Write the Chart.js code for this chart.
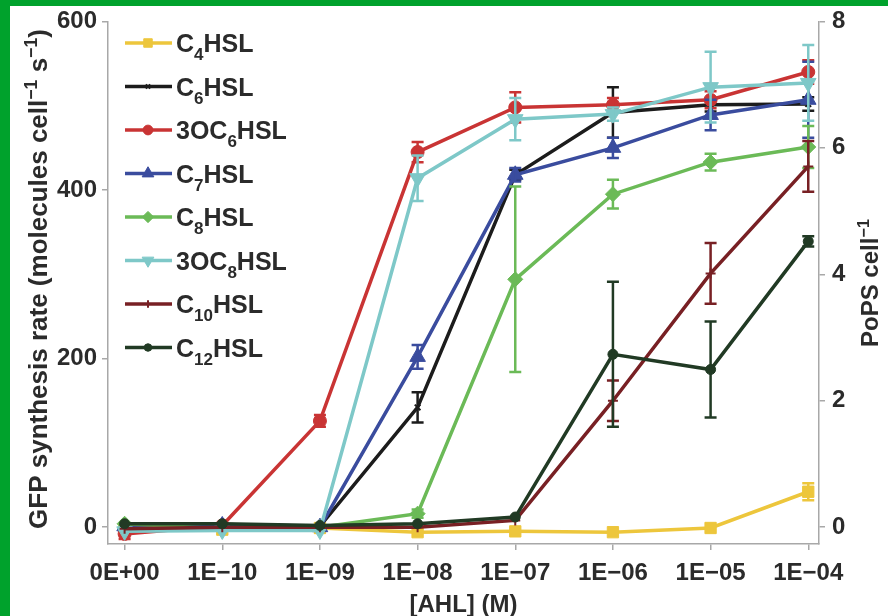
<!DOCTYPE html>
<html>
<head>
<meta charset="utf-8">
<script src="https://cdn.jsdelivr.net/npm/chart.js@4.4.1/dist/chart.umd.min.js"></script>
<style>
  html, body { margin: 0; padding: 0; background: #fff; }
  canvas { display: block; }
</style>
</head>
<body>
<canvas id="chart" width="888" height="616"></canvas>
<script>
// AHL concentrations (x categories)
const concLabels = ['0E+00', '1E\u221210', '1E\u221209', '1E\u221208', '1E\u221207', '1E\u221206', '1E\u221205', '1E\u221204'];

// series names, _{..} = subscript
const seriesNames = ['C_{4}HSL', 'C_{6}HSL', '3OC_{6}HSL', 'C_{7}HSL', 'C_{8}HSL', '3OC_{8}HSL', 'C_{10}HSL', 'C_{12}HSL'];

// GFP synthesis rate, molecules cell^-1 s^-1
const c4Hsl   = [-3, -3, -1, -6, -5, -6, -1, 42];
const c6Hsl   = [2, 3, 1, 142, 418, 492, 501, 502];
const oc6Hsl  = [-8, 2, 126, 445, 498, 501, 507, 540];
const c7Hsl   = [1, 2, 0, 202, 418, 450, 489, 507];
const c8Hsl   = [4, -2, 0, 16, 294, 395, 433, 451];
const oc8Hsl  = [-5, -4, -4, 414, 484, 490, 522, 527];
const c10Hsl  = [-2, 0, 0, 0, 8, 150, 301, 428];
const c12Hsl  = [4, 4, 2, 4, 12, 205, 187, 339];

// error bar half-widths
const c4Err   = [3, 2, 2, 3, 3, 3, 3, 10];
const c6Err   = [3, 3, 3, 18, 6, 30, 8, 8];
const oc6Err  = [6, 3, 7, 12, 18, 8, 10, 14];
const c7Err   = [3, 3, 3, 14, 8, 12, 18, 45];
const c8Err   = [3, 3, 3, 5, 110, 17, 10, 25];
const oc8Err  = [3, 3, 3, 27, 25, 8, 42, 45];
const c10Err  = [3, 3, 3, 3, 4, 24, 36, 30];
const c12Err  = [3, 3, 3, 3, 4, 86, 57, 6];

const leftTicks = [0, 200, 400, 600];
const rightTicks = [0, 2, 4, 6, 8];

const colors = ['#edc63c', '#1c1c1c', '#c93434', '#3a4c9e', '#6bba57', '#7ec8c8', '#782024', '#213a24'];
const markers = [
  { style: 'rect', r: 8, rot: 0 },
  { style: 'crossRot', r: 4, rot: 0 },
  { style: 'circle', r: 6.5, rot: 0 },
  { style: 'triangle', r: 9, rot: 0 },
  { style: 'rectRot', r: 7.5, rot: 0 },
  { style: 'triangle', r: 9, rot: 180 },
  { style: 'cross', r: 5, rot: 0 },
  { style: 'circle', r: 5, rot: 0 }
];

const allValues = [c4Hsl, c6Hsl, oc6Hsl, c7Hsl, c8Hsl, oc8Hsl, c10Hsl, c12Hsl];
const allErrors = [c4Err, c6Err, oc6Err, c7Err, c8Err, oc8Err, c10Err, c12Err];

const FONT = "'Liberation Sans', Arial, sans-serif";
const WEIGHT = 'bold';
const TEXT = '#2b2b2b';
const AXIS = '#a8a8a8';

// split 'C_{4}HSL' / 'cell^{-1}' into parts
function parseRich(str) {
  const parts = [];
  const re = /([_^])\{([^}]*)\}|([^_^]+)/g;
  let m;
  while ((m = re.exec(str)) !== null) {
    if (m[3]) parts.push({ t: m[3], k: null });
    else parts.push({ t: m[2], k: m[1] === '_' ? 'sub' : 'sup' });
  }
  return parts;
}

function richWidth(ctx, parts, size) {
  let w = 0;
  parts.forEach(p => {
    ctx.font = WEIGHT + ' ' + (p.k ? size * 0.68 : size) + 'px ' + FONT;
    w += ctx.measureText(p.t).width;
  });
  return w;
}

function drawRich(ctx, str, x, y, size, align) {
  const parts = parseRich(str);
  let cx = x;
  if (align === 'center') cx = x - richWidth(ctx, parts, size) / 2;
  ctx.textBaseline = 'alphabetic';
  ctx.textAlign = 'left';
  parts.forEach(p => {
    let dy = 0, s = size;
    if (p.k === 'sub') { s = size * 0.68; dy = size * 0.32; }
    if (p.k === 'sup') { s = size * 0.68; dy = -size * 0.38; }
    ctx.font = WEIGHT + ' ' + s + 'px ' + FONT;
    ctx.fillText(p.t, cx, y + dy);
    cx += ctx.measureText(p.t).width;
  });
}

const datasets = allValues.map((vals, i) => ({
  label: seriesNames[i],
  data: vals.map((v, j) => ({ x: j, y: v })),
  errs: allErrors[i],
  borderColor: colors[i],
  backgroundColor: colors[i],
  borderWidth: 3.5,
  pointStyle: markers[i].style,
  pointRadius: markers[i].r,
  pointRotation: markers[i].rot,
  pointBorderWidth: markers[i].style === 'cross' || markers[i].style === 'crossRot' ? 2 : 1,
  pointBorderColor: colors[i],
  pointBackgroundColor: colors[i],
  order: allValues.length - i,
  yAxisID: 'y'
}));

const errorBars = {
  id: 'errorBars',
  afterDatasetDraw(chart, args) {
    const ds = chart.data.datasets[args.index];
    const ctx = chart.ctx;
    const xs = chart.scales.x, ys = chart.scales.y;
    ctx.save();
    ctx.strokeStyle = ds.borderColor;
    ctx.lineWidth = 2.5;
    ds.data.forEach((p, j) => {
      const e = ds.errs[j];
      const px = xs.getPixelForValue(p.x);
      const top = ys.getPixelForValue(p.y + e);
      const bot = ys.getPixelForValue(p.y - e);
      if (bot - top < 8) return;
      ctx.beginPath();
      ctx.moveTo(px, top); ctx.lineTo(px, bot);
      ctx.moveTo(px - 6, top); ctx.lineTo(px + 6, top);
      ctx.moveTo(px - 6, bot); ctx.lineTo(px + 6, bot);
      ctx.stroke();
    });
    ctx.restore();
  }
};

const decorations = {
  id: 'decorations',
  beforeDraw(chart) {
    const ctx = chart.ctx;
    ctx.save();
    ctx.fillStyle = '#fff';
    ctx.fillRect(0, 0, chart.width, chart.height);
    ctx.restore();
  },
  afterDraw(chart) {
    const ctx = chart.ctx;
    const area = chart.chartArea;
    ctx.save();
    ctx.fillStyle = TEXT;

    // legend inside plot
    chart.data.datasets.forEach((ds, i) => {
      const y = 43 + i * 43.5;
      ctx.strokeStyle = ds.borderColor;
      ctx.lineWidth = 3.5;
      ctx.beginPath();
      ctx.moveTo(125, y); ctx.lineTo(172, y);
      ctx.stroke();
      if (Chart.helpers && Chart.helpers.drawPoint) {
        ctx.fillStyle = ds.borderColor;
        ctx.lineWidth = ds.pointBorderWidth;
        Chart.helpers.drawPoint(ctx, {
          pointStyle: ds.pointStyle,
          radius: ds.pointRadius * 0.75,
          rotation: ds.pointRotation,
          borderWidth: ds.pointBorderWidth
        }, 148, y);
      }
      ctx.fillStyle = TEXT;
      drawRich(ctx, ds.label, 176, y + 9, 25, 'left');
    });

    // axis titles
    ctx.save();
    ctx.translate(47, 279);
    ctx.rotate(-Math.PI / 2);
    drawRich(ctx, 'GFP synthesis rate (molecules cell^{\u22121} s^{\u22121})', 0, 0, 26, 'center');
    ctx.restore();

    ctx.save();
    ctx.translate(878, 283);
    ctx.rotate(-Math.PI / 2);
    drawRich(ctx, 'PoPS cell^{\u22121}', 0, 0, 24, 'center');
    ctx.restore();

    drawRich(ctx, '[AHL] (M)', (area.left + area.right) / 2, 612, 24, 'center');

    // green frame
    ctx.fillStyle = '#00a22c';
    ctx.fillRect(0, 0, chart.width, 6);
    ctx.fillRect(0, 0, 10, chart.height);
    ctx.restore();
  }
};

new Chart(document.getElementById('chart'), {
  type: 'line',
  data: { datasets: datasets },
  plugins: [errorBars, decorations],
  options: {
    responsive: false,
    animation: false,
    devicePixelRatio: 1,
    layout: { padding: { top: 19, left: 0, right: 0, bottom: 0 } },
    plugins: { legend: { display: false }, tooltip: { enabled: false } },
    scales: {
      x: {
        type: 'linear',
        min: -0.17,
        max: 7.11,
        afterBuildTicks: s => { s.ticks = concLabels.map((_, i) => ({ value: i })); },
        afterFit: s => { s.height = 72; },
        grid: { drawOnChartArea: false, color: AXIS, tickLength: 6, lineWidth: 1.5 },
        border: { color: AXIS, width: 1.5 },
        ticks: {
          callback: v => concLabels[v],
          color: TEXT,
          font: { family: FONT, size: 24, weight: WEIGHT },
          padding: 9,
          maxRotation: 0,
          autoSkip: false
        }
      },
      y: {
        position: 'left',
        min: -20,
        max: 600,
        afterBuildTicks: s => { s.ticks = leftTicks.map(v => ({ value: v })); },
        afterFit: s => { s.width = 108; },
        grid: { drawOnChartArea: false, color: AXIS, tickLength: 6, lineWidth: 1.5 },
        border: { color: AXIS, width: 1.5 },
        ticks: { color: TEXT, font: { family: FONT, size: 24, weight: WEIGHT }, padding: 5 }
      },
      y2: {
        position: 'right',
        min: -20 / 75,
        max: 8,
        afterBuildTicks: s => { s.ticks = rightTicks.map(v => ({ value: v })); },
        afterFit: s => { s.width = 69; },
        grid: { drawOnChartArea: false, color: AXIS, tickLength: 6, lineWidth: 1.5 },
        border: { color: AXIS, width: 1.5 },
        ticks: { color: TEXT, font: { family: FONT, size: 24, weight: WEIGHT }, padding: 7 }
      }
    }
  }
});
</script>
</body>
</html>
